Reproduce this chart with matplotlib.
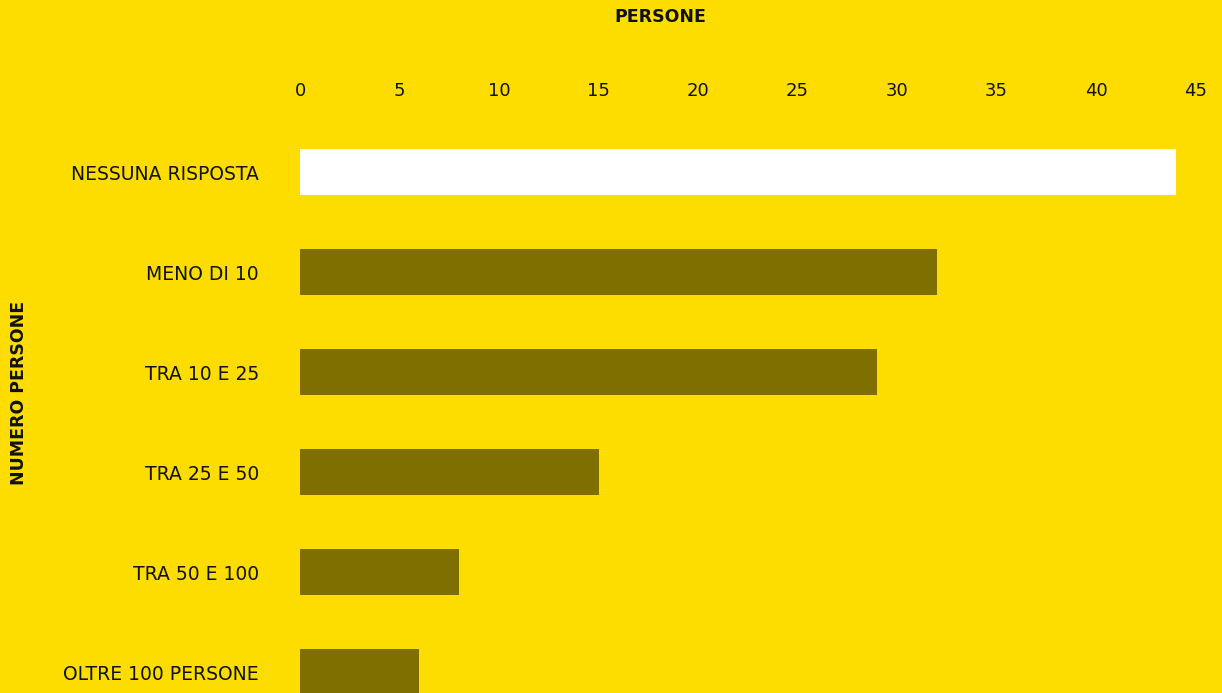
import matplotlib
matplotlib.use('Agg')
import matplotlib.pyplot as plt

plt.rcParams['font.family'] = ['DejaVu Sans']

YELLOW = '#FDDD00'
OLIVE = '#7F6F00'
WHITE = '#FFFFFF'
INK = '#111111'

categories = ['NESSUNA RISPOSTA', 'MENO DI 10', 'TRA 10 E 25',
              'TRA 25 E 50', 'TRA 50 E 100', 'OLTRE 100 PERSONE']
values = [44, 32, 29, 15, 8, 6]
bar_colors = [WHITE, OLIVE, OLIVE, OLIVE, OLIVE, OLIVE]
xticks = [0, 5, 10, 15, 20, 25, 30, 35, 40, 45]

W, H = 1222, 693
fig = plt.figure(figsize=(W / 100, H / 100), dpi=100, facecolor=YELLOW)

# axes box in pixels: left edge at 300, 100 px per category
left, top = 300, 122
xmax = 45.5
px_per_unit = 19.9
width_px = xmax * px_per_unit
ax = fig.add_axes([left / W, 0, width_px / W, (H - top) / H])
ax.set_facecolor(YELLOW)

pos = list(range(len(categories)))
ax.barh(pos, values, color=bar_colors, height=0.46, edgecolor='none')

ax.set_xlim(0, xmax)
ax.set_ylim(5.21, -0.5)
ax.set_xticks(xticks)
ax.set_yticks(pos)
ax.set_yticklabels(categories)
ax.xaxis.tick_top()
ax.tick_params(axis='x', length=0, pad=15.8, labelsize=13, colors=INK)
ax.tick_params(axis='y', length=0, pad=29.5, labelsize=13.5, colors=INK)
for s in ax.spines.values():
    s.set_visible(False)

fig.text(660 / W, 1 - 17 / H, 'PERSONE', ha='center', va='center',
         fontsize=12.5, fontweight='bold', color=INK)
fig.text(19 / W, 1 - 393 / H, 'NUMERO PERSONE', ha='center', va='center',
         rotation=90, fontsize=12.5, fontweight='bold', color=INK)

fig.savefig('out.png', dpi=100, facecolor=YELLOW)
